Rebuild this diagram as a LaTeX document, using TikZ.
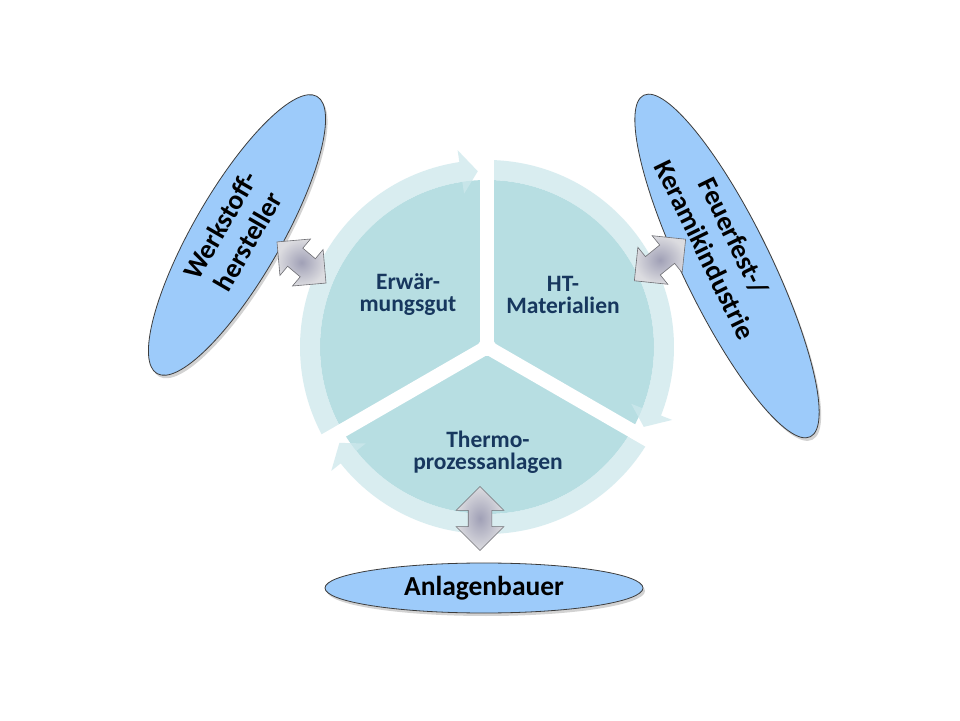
\documentclass[tikz,border=0pt]{standalone}
\usepackage{fontspec}
\setmainfont{Carlito}
\usetikzlibrary{shapes.arrows,shapes.geometric,shadows}
\definecolor{piecol}{RGB}{183,222,226}
\definecolor{ringcol}{RGB}{205,232,236}
\definecolor{navy}{RGB}{23,55,94}
\definecolor{ellfill}{RGB}{157,203,250}
\definecolor{elldraw}{RGB}{60,60,60}
\definecolor{arrin}{RGB}{160,160,182}
\definecolor{arrout}{RGB}{220,220,224}
\definecolor{arrdraw}{RGB}{110,110,115}
\newcommand\myringarrow[2]{%
  \fill[ringarrow] (#1:187) arc[start angle=#1, end angle={#2+5.5}, radius=187]
    -- ({#2+5.5}:199) -- (#2:176) -- ({#2+5.5}:155) -- ({#2+5.5}:167)
    arc[start angle={#2+5.5}, end angle=#1, radius=167] -- cycle;}
\begin{document}
\begin{tikzpicture}[x=1pt,y=1pt,
  seglabel/.style={text=navy, font=\fontsize{23.5}{22}\selectfont\bfseries, align=center},
  partner/.style={ellipse, draw=elldraw, line width=0.8pt, fill=ellfill,
    font=\fontsize{27.5}{30}\selectfont\bfseries, align=center, inner sep=0pt,
    drop shadow={shadow xshift=2pt, shadow yshift=-3pt, opacity=0.35}},
  link/.style={double arrow, double arrow head extend=12pt, double arrow tip angle=90,
    inner sep=11.5pt, minimum height=64pt, draw=arrdraw, line width=0.6pt,
    inner color=arrin, outer color=arrout},
  ringarrow/.style={fill=ringcol, fill opacity=0.75},
  gapline/.style={white, line width=14pt},
]
\useasboundingbox (0,0) rectangle (960,720);
\fill[white] (0,0) rectangle (960,720);
% cycle
\begin{scope}[shift={(487,373)}]
  \fill[piecol] (0,0) circle[radius=167];
  \myringarrow{210}{93}
  \myringarrow{90}{-27}
  \myringarrow{-30}{-147}
  \draw[gapline] (0,0) -- (90:205);
  \draw[gapline] (0,0) -- (210:205);
  \draw[gapline] (0,0) -- (330:205);
  \fill[white] (0,0) circle[radius=9];
\end{scope}
\node[seglabel] (erw) at (408,425) {Erwär-\\mungsgut};
\node[seglabel] (ht) at (563,425) {HT-\\Materialien};
\node[seglabel] (thermo) at (488,268) {Thermo-\\prozessanlagen};
% partners
\node[partner, minimum width=320pt, minimum height=78pt, rotate=60] (wk) at (237,485)
  {\begin{tabular}{@{}c@{}}Werkstoff-\\[2pt]hersteller\end{tabular}};
\node[partner, minimum width=380pt, minimum height=80pt, rotate=-64] (fk) at (727,454)
  {\begin{tabular}{@{}c@{}}Feuerfest-/\\[2pt]Keramikindustrie\end{tabular}\hspace*{48pt}};
\node[partner, minimum width=318pt, minimum height=50pt] (ab) at (484,132) {Anlagenbauer};
% links
\node[link, rotate=-40] (l1) at (301.5,457.5) {};
\node[link, rotate=39, minimum height=66pt] (l2) at (660,460) {};
\node[link, rotate=90] (l3) at (480,201.5) {};
\end{tikzpicture}
\end{document}
